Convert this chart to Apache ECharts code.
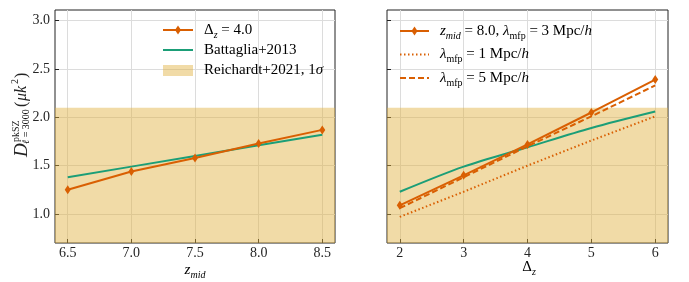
<!DOCTYPE html>
<html><head><meta charset="utf-8">
<script src="https://cdn.jsdelivr.net/npm/echarts@6/dist/echarts.min.js"></script>
<style>html,body{margin:0;padding:0;background:#fff}#c{width:689px;height:282px}</style>
</head><body><div id="c"></div><script>
// ---- data ----
const zMid = [6.5, 7.0, 7.5, 8.0, 8.5];
const simDz4 = [1.25, 1.44, 1.58, 1.73, 1.87];
const battagliaZ = [1.38, 1.49, 1.60, 1.71, 1.82];
const deltaZ = [2, 3, 4, 5, 6];
const simMfp3 = [1.09, 1.40, 1.72, 2.05, 2.39];
const simMfp1 = [0.97, 1.23, 1.50, 1.76, 2.01];
const simMfp5 = [1.06, 1.38, 1.70, 2.01, 2.33];
const battagliaDz = [1.23, 1.49, 1.69, 1.89, 2.06];
const yTicks = [1.0, 1.5, 2.0, 2.5, 3.0];
const zTicks = [6.5, 7.0, 7.5, 8.0, 8.5];
const dzTicks = [2, 3, 4, 5, 6];
const bandRange = [0.7, 2.1];

const ORANGE = '#d95f02', GREEN = '#1b9e77';
const BAND = 'rgba(225,175,60,0.45)';
const FONT = '"Liberation Serif", "Times New Roman", serif';
const pairs = (xs, ys) => xs.map((x, i) => [x, ys[i]]);

const chart = echarts.init(document.getElementById('c'));

function xAxisCfg(idx, min, max, ticks, dec) {
  return {
    type: 'value', gridIndex: idx, min, max,
    axisLine: { show: false },
    axisTick: { show: true, inside: true, length: 4, customValues: ticks, lineStyle: { color: '#222' } },
    axisLabel: { customValues: ticks, margin: 3, fontFamily: FONT, fontSize: 14, color: '#262626',
      formatter: v => dec ? v.toFixed(1) : String(v) },
    splitLine: { show: true, lineStyle: { color: '#dcdcdc', width: 1 } }
  };
}
function yAxisCfg(idx, showLabel) {
  return {
    type: 'value', gridIndex: idx, min: 0.7, max: 3.11,
    axisLine: { show: false },
    axisTick: { show: true, inside: true, length: 4, customValues: yTicks, lineStyle: { color: '#222' } },
    axisLabel: { show: showLabel, customValues: yTicks, margin: 5, fontFamily: FONT, fontSize: 14, color: '#262626',
      formatter: v => v.toFixed(1) },
    splitLine: { show: true, lineStyle: { color: '#dcdcdc', width: 1 } }
  };
}
const band = { silent: true, itemStyle: { color: BAND }, data: [[{ yAxis: bandRange[0] }, { yAxis: bandRange[1] }]] };
const simStyle = { symbol: 'diamond', symbolSize: [6, 9], lineStyle: { color: ORANGE, width: 2 }, itemStyle: { color: ORANGE } };

const rich = {
  m: { fontFamily: FONT, fontSize: 15, color: '#222', lineHeight: 20, verticalAlign: 'middle' },
  i: { fontFamily: FONT, fontStyle: 'italic', fontSize: 15, color: '#222', lineHeight: 20, verticalAlign: 'middle' },
  s: { fontFamily: FONT, fontSize: 10, color: '#222', verticalAlign: 'bottom', lineHeight: 14 },
  si: { fontFamily: FONT, fontStyle: 'italic', fontSize: 10, color: '#222', verticalAlign: 'bottom', lineHeight: 14 }
};
function rt(x, y, text, align) {
  return { type: 'text', x, y, z: 100, style: { text, rich, align: align || 'left', verticalAlign: 'middle' } };
}
function legLine(x1, x2, y, color, dash, diamond) {
  const arr = [{ type: 'line', z: 100, shape: { x1, y1: y, x2, y2: y }, style: { stroke: color, lineWidth: 2, lineDash: dash || null } }];
  if (diamond) arr.push({ type: 'polygon', z: 101, shape: { points: [[(x1+x2)/2, y-4.5], [(x1+x2)/2+3, y], [(x1+x2)/2, y+4.5], [(x1+x2)/2-3, y]] }, style: { fill: color } });
  return arr;
}
function ytxt(x, y, text, font) {
  return { type: 'text', x, y, style: { text, font, fill: '#222', align: 'left', verticalAlign: 'middle' } };
}

const graphic = [
  // y-axis name
  { type: 'group', x: 21, y: 115, rotation: Math.PI / 2, children: [
    ytxt(-42, 1, 'D', 'italic 19px ' + FONT),
    ytxt(-27, -5, 'pkSZ', '10px ' + FONT),
    { type: 'text', x: -29, y: 5, style: { text: '{i|ℓ}{m| = 3000}', rich: {
      i: { fontFamily: FONT, fontStyle: 'italic', fontSize: 10, color: '#222' },
      m: { fontFamily: FONT, fontSize: 10, color: '#222' } }, verticalAlign: 'middle' } },
    ytxt(8, 1, '(', '16px ' + FONT),
    ytxt(14, 1, 'μk', 'italic 16px ' + FONT),
    ytxt(31, -6, '2', '10px ' + FONT),
    ytxt(37, 1, ')', '16px ' + FONT)
  ] },
  // x-axis names
  rt(195, 270, '{i|z}{si|mid}', 'center'),
  rt(529, 267, '{m|Δ}{si|z}', 'center'),
  // left legend
  ...legLine(163, 193, 30, ORANGE, null, true),
  rt(204, 30, '{m|Δ}{si|z}{m| = 4.0}'),
  ...legLine(163, 193, 50, GREEN),
  rt(204, 50, '{m|Battaglia+2013}'),
  { type: 'rect', z: 100, shape: { x: 163, y: 65, width: 30, height: 11 }, style: { fill: BAND } },
  rt(204, 70.5, '{m|Reichardt+2021, 1}{i|σ}'),
  // right legend
  ...legLine(400, 429, 31, ORANGE, null, true),
  rt(440, 31, '{i|z}{si|mid}{m| = 8.0, }{i|λ}{s|mfp}{m| = 3 Mpc/}{i|h}'),
  ...legLine(400, 429, 54.5, ORANGE, [1.5, 2.5]),
  rt(440, 54.5, '{i|λ}{s|mfp}{m| = 1 Mpc/}{i|h}'),
  ...legLine(400, 429, 78, ORANGE, [6, 3]),
  rt(440, 78, '{i|λ}{s|mfp}{m| = 5 Mpc/}{i|h}')
];

chart.setOption({
  animation: false,
  backgroundColor: '#fff',
  grid: [
    { left: 55, top: 10, width: 280, height: 233, show: true, borderColor: '#222', borderWidth: 1, backgroundColor: 'transparent' },
    { left: 387, top: 10, width: 281, height: 233, show: true, borderColor: '#222', borderWidth: 1, backgroundColor: 'transparent' }
  ],
  xAxis: [xAxisCfg(0, 6.4, 8.6, zTicks, true), xAxisCfg(1, 1.8, 6.2, dzTicks, false)],
  yAxis: [yAxisCfg(0, true), yAxisCfg(1, false)],
  series: [
    { type: 'line', xAxisIndex: 0, yAxisIndex: 0, data: pairs(zMid, battagliaZ), showSymbol: false, lineStyle: { color: GREEN, width: 2 }, markArea: band, z: 2 },
    Object.assign({ type: 'line', xAxisIndex: 0, yAxisIndex: 0, data: pairs(zMid, simDz4), z: 3 }, simStyle),
    { type: 'line', xAxisIndex: 1, yAxisIndex: 1, data: pairs(deltaZ, battagliaDz), smooth: 0.3, showSymbol: false, lineStyle: { color: GREEN, width: 2 }, markArea: band, z: 2 },
    { type: 'line', xAxisIndex: 1, yAxisIndex: 1, data: pairs(deltaZ, simMfp1), showSymbol: false, lineStyle: { color: ORANGE, width: 2, type: [1.5, 2.5] }, z: 3 },
    { type: 'line', xAxisIndex: 1, yAxisIndex: 1, data: pairs(deltaZ, simMfp5), showSymbol: false, lineStyle: { color: ORANGE, width: 2, type: [6, 3] }, z: 3 },
    Object.assign({ type: 'line', xAxisIndex: 1, yAxisIndex: 1, data: pairs(deltaZ, simMfp3), z: 4 }, simStyle)
  ],
  graphic
});
</script></body></html>
